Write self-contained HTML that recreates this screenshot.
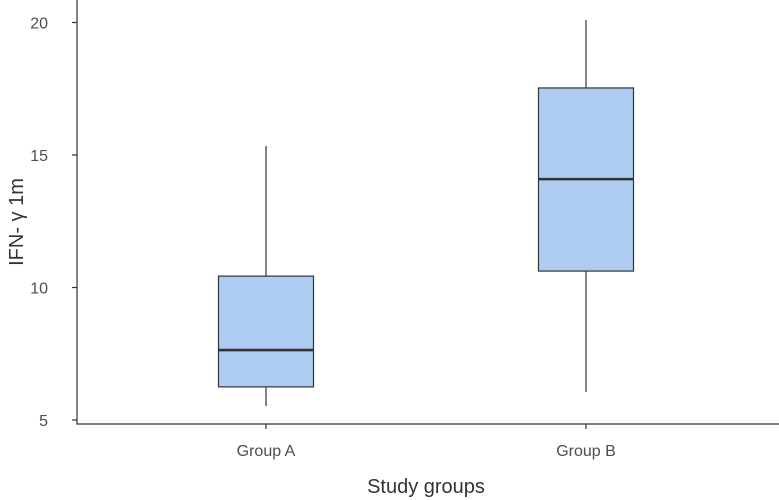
<!DOCTYPE html>
<html><head><meta charset="utf-8"><style>
html,body{margin:0;padding:0;background:#fff;}
svg{display:block;font-family:"Liberation Sans",sans-serif;}
</style></head><body>
<svg id="chart" width="779" height="500"></svg>
<script>
const categories=["Group A","Group B"];
const mins=[5.53,6.06];
const q1s=[6.25,10.62];
const medians=[7.64,14.09];
const q3s=[10.43,17.53];
const maxs=[15.34,20.09];
const yTicks=[5,10,15,20];
const NS="http://www.w3.org/2000/svg";
const svg=document.getElementById("chart");
function y(v){return 420-(v-5)*26.5;}
function x(i){return 266+i*320;}
function mk(t,a,p){const e=document.createElementNS(NS,t);for(const k in a)e.setAttribute(k,a[k]);(p||svg).appendChild(e);return e;}
let e;
e=mk("line",{x1:77,y1:0,x2:77,y2:424.5,stroke:"#333","stroke-width":1.2});


e=mk("line",{x1:76.5,y1:424,x2:779,y2:424,stroke:"#333","stroke-width":1.2});


yTicks.forEach(v=>{
 let t=mk("line",{x1:72,x2:77,y1:y(v),y2:y(v),stroke:"#333","stroke-width":1.2});
 
 
 let l=mk("text",{x:48,y:y(v)+6,"text-anchor":"end","font-size":16,fill:"#4d4d4d"});
 l.textContent=v;
 
 
});
categories.forEach((c,i)=>{
 const cx=x(i);
 let t=mk("line",{x1:cx,x2:cx,y1:424,y2:429,stroke:"#333","stroke-width":1.2});
 
 
 let l=mk("text",{x:cx,y:456,"text-anchor":"middle","font-size":16,fill:"#4d4d4d"});
 l.textContent=c;
 
 
 let w=mk("line",{x1:cx,x2:cx,y1:y(maxs[i]),y2:y(mins[i]),stroke:"#333","stroke-width":1.2});
 
 
 let b=mk("rect",{x:cx-47.5,width:95,y:y(q3s[i]),height:y(q1s[i])-y(q3s[i]),fill:"#aecbf2",stroke:"#333","stroke-width":1.2});
 
 
 let m=mk("line",{x1:cx-47.5,x2:cx+47.5,y1:y(medians[i]),y2:y(medians[i]),stroke:"#333","stroke-width":2.6});
 
 
});
e=mk("text",{x:426,y:493,"text-anchor":"middle","font-size":20,fill:"#333"});
e.textContent="Study groups";


e=mk("text",{x:0,y:0,"text-anchor":"middle","font-size":20,fill:"#333",transform:"translate(23,222) rotate(-90)"});
e.textContent="IFN- γ 1m";


</script>
</body></html>
